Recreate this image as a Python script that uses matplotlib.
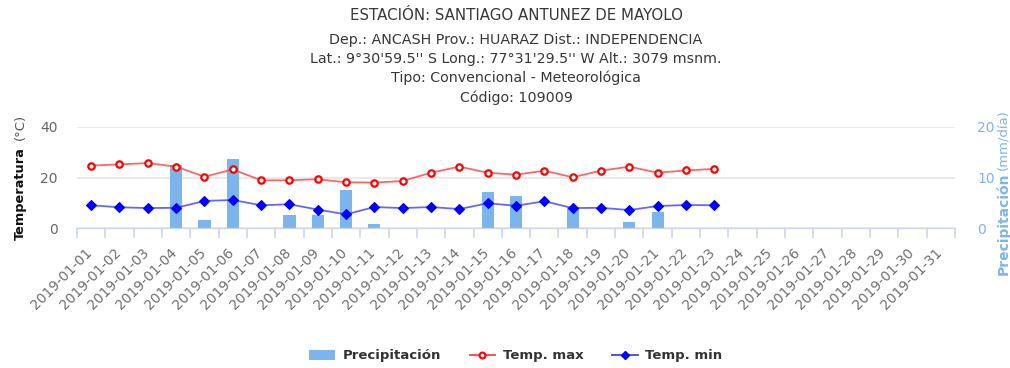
import matplotlib
matplotlib.use("Agg")
import matplotlib.pyplot as plt
import matplotlib.transforms as mtransforms
from matplotlib.lines import Line2D
from matplotlib.patches import Patch
import numpy as np

plt.rcParams['font.family'] = ['DejaVu Sans']

# daily series, January 2019
fechas = ['2019-01-%02d' % d for d in range(1, 32)]
temp_max = [24.7, 25.2, 25.7, 24.3, 20.3, 23.2, 18.9, 18.9, 19.3, 18.1, 18.0,
            18.6, 21.9, 24.3, 21.9, 21.1, 22.7, 20.1, 22.7, 24.3, 21.9, 22.8, 23.4]
temp_min = [9.0, 8.2, 7.9, 8.0, 10.7, 11.1, 9.0, 9.4, 7.3, 5.4, 8.3,
            7.9, 8.3, 7.5, 9.8, 8.8, 10.6, 7.9, 8.0, 7.1, 8.7, 9.1, 9.0]
precip = [0.0, 0.0, 0.0, 12.4, 1.6, 13.7, 0.0, 2.6, 2.6, 7.5, 0.7,
          0.0, 0.0, 0.0, 7.2, 6.4, 0.0, 4.1, 0.0, 1.2, 3.1, 0.0, 0.0]

titulo = ['ESTACIÓN: SANTIAGO ANTUNEZ DE MAYOLO',
          'Dep.: ANCASH Prov.: HUARAZ Dist.: INDEPENDENCIA',
          'Lat.: 9°30\'59.5\'\' S Long.: 77°31\'29.5\'\' W Alt.: 3079 msnm.',
          'Tipo: Convencional - Meteorológica',
          'Código: 109009']

W, H = 1010, 368
fig = plt.figure(figsize=(W / 100, H / 100), dpi=100)
ax = fig.add_axes([77 / W, 1 - 228 / H, (955 - 77) / W, (228 - 127) / H])
ax2 = ax.twinx()

x_all = np.arange(len(fechas))
x_dat = np.arange(len(temp_max))

# precipitation bars on the right axis, kept behind the temperature lines
ax2.set_axisbelow(True)
ax2.yaxis.grid(True, color='#e6e6e6', lw=1.2)
ax2.bar(np.arange(len(precip)), precip, width=0.43, color='#7cb5ec', zorder=2)
ax.set_zorder(ax2.get_zorder() + 1)
ax.patch.set_visible(False)

ax.plot(x_dat, temp_max, color='#ff4040', alpha=0.8, lw=1.3, zorder=3)
ax.plot(x_dat, temp_max, ls='none', marker='o', ms=4.6, mfc='white',
        mec='#ff0000', mew=1.6, zorder=4)
ax.plot(x_dat, temp_min, color='#4040ff', alpha=0.8, lw=1.3, zorder=3)
ax.plot(x_dat, temp_min, ls='none', marker='D', ms=5, mfc='#0000ff',
        mec='#0000ff', mew=0.8, zorder=4)

ax.set_xlim(-0.5, len(fechas) - 0.5)
ax.set_ylim(0, 40)
ax2.set_ylim(0, 20)

for a in (ax, ax2):
    for s in ('top', 'left', 'right'):
        a.spines[s].set_visible(False)
    a.spines['bottom'].set_color('#ccd6eb')

ax.set_yticks([0, 20, 40])
ax.tick_params(axis='y', length=0, pad=14, labelsize=10, labelcolor='#666666')
ax2.set_yticks([0, 10, 20])
ax2.tick_params(axis='y', length=0, pad=16, labelsize=10, labelcolor='#7cb5ec')

ax.set_xticks(x_all)
ax.set_xticklabels(fechas)
ax.set_xticks(np.arange(-0.5, len(fechas)), minor=True)
ax.tick_params(axis='x', which='major', length=0, pad=16, labelsize=10,
               labelcolor='#707070')
ax.tick_params(axis='x', which='minor', length=7.5, color='#ccd6eb', width=1.2)
shift = mtransforms.ScaledTranslation(-1 / 100, 0, fig.dpi_scale_trans)
for lab in ax.get_xticklabels():
    lab.set_rotation(45)
    lab.set_rotation_mode('anchor')
    lab.set_ha('right')
    lab.set_va('center')
    lab.set_transform(lab.get_transform() + shift)

# axis titles
fig.text(20 / W, 1 - 240 / H, 'Temperatura', rotation=90, ha='center',
         va='bottom', fontsize=9.3, fontweight='bold', color='#111111')
fig.text(20 / W, 1 - 140 / H, '(°C)', rotation=90, ha='center',
         va='bottom', fontsize=9.5, color='#555555')
fig.text(1003 / W, 1 - 275 / H, 'Precipitación', rotation=90, ha='center',
         va='bottom', fontsize=10, fontweight='bold', color='#7cb5ec')
fig.text(1003 / W, 1 - 170 / H, '(mm/día)', rotation=90, ha='center',
         va='bottom', fontsize=9.5, color='#7cb5ec')

# header
ys = [16, 40, 59, 78, 98]
for i, (t, y) in enumerate(zip(titulo, ys)):
    fig.text(516 / W, 1 - y / H, t, ha='center', va='center',
             fontsize=10.8 if i == 0 else 10.3, color='#383838')

handles = [Patch(facecolor='#7cb5ec', edgecolor='none'),
           Line2D([], [], color='#ff4040', lw=1.3, marker='o', ms=4.2,
                  mfc='white', mec='#ff0000', mew=1.5),
           Line2D([], [], color='#4040ff', lw=1.3, marker='D', ms=4.5,
                  mfc='#0000ff', mec='#0000ff')]
leg = fig.legend(handles, ['Precipitación', 'Temp. max', 'Temp. min'],
                 loc='center', bbox_to_anchor=(516 / W, 1 - 356 / H), ncol=3,
                 frameon=False, prop={'weight': 'bold', 'size': 9.5},
                 handlelength=1.9, handletextpad=0.6, columnspacing=2.2)
for t in leg.get_texts():
    t.set_color('#333333')

fig.savefig('out.png', dpi=100)
